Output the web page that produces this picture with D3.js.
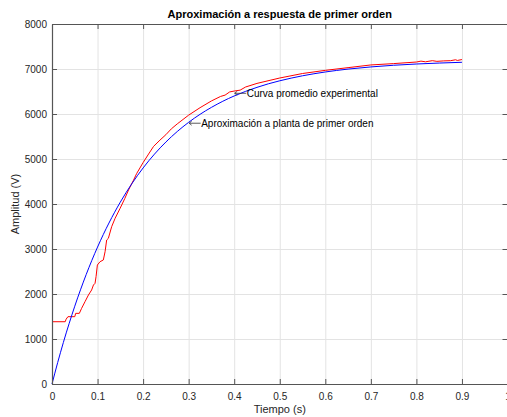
<!DOCTYPE html>
<html>
<head>
<meta charset="utf-8">
<script src="https://cdn.jsdelivr.net/npm/d3@7"></script>
<style>
    body { margin: 0; background: #fff; }
    svg { display: block; font-family: "Liberation Sans", Arial, Helvetica, sans-serif; }
</style>
</head>
<body>
<div id="chart"></div>
<script>
// valori
var tiempoAprox = [0, 0.0125, 0.025, 0.05, 0.075, 0.1, 0.125, 0.15, 0.175, 0.2, 0.225, 0.25, 0.275, 0.3,
    0.325, 0.35, 0.375, 0.4, 0.425, 0.45, 0.475, 0.5, 0.55, 0.6, 0.65, 0.7, 0.75, 0.8, 0.85, 0.9];
var valoresAprox = [0, 478, 924, 1729, 2431, 3043, 3577, 4042, 4447, 4801, 5109, 5377, 5611, 5815,
    5993, 6147, 6283, 6401, 6503, 6592, 6671, 6738, 6849, 6934, 6998, 7046, 7083, 7111, 7132, 7149];

var tiempoExp = [0, 0.029, 0.031, 0.035, 0.05, 0.052, 0.06, 0.065, 0.0725, 0.08, 0.087, 0.091, 0.0945,
    0.0967, 0.0996, 0.1055, 0.1127, 0.1165, 0.12, 0.1237, 0.131, 0.1385, 0.1495, 0.16, 0.168, 0.179,
    0.186, 0.2, 0.212, 0.223, 0.237, 0.25, 0.262, 0.275, 0.3, 0.325, 0.35, 0.37, 0.38, 0.39, 0.4,
    0.413, 0.425, 0.45, 0.5, 0.55, 0.6, 0.65, 0.7, 0.75, 0.8, 0.81, 0.82, 0.835, 0.845, 0.86, 0.875,
    0.886, 0.89, 0.9];
var valoresExp = [1384, 1384, 1440, 1496, 1496, 1570, 1570, 1681, 1830, 1978, 2089, 2200, 2237,
    2385, 2644, 2718, 2756, 2940, 3200, 3237, 3496, 3681, 3904, 4126, 4311, 4530,
    4680, 4920, 5110, 5280, 5420, 5540, 5670, 5780, 5975, 6140, 6290, 6390, 6420, 6490, 6510,
    6530, 6600, 6680, 6800, 6900, 6970, 7030, 7090, 7120, 7155, 7175, 7160, 7185, 7170, 7180, 7185,
    7205, 7190, 7210];

var xTicks = [0, 0.1, 0.2, 0.3, 0.4, 0.5, 0.6, 0.7, 0.8, 0.9, 1];
var yTicks = [0, 1000, 2000, 3000, 4000, 5000, 6000, 7000, 8000];

var titulo = "Aproximación a respuesta de primer orden";
var etiquetaX = "Tiempo (s)";
var etiquetaY = "Amplitud (V)";
var notas = [
    { t: 0.4, v: 6460, texto: "Curva promedio experimental" },
    { t: 0.3, v: 5795, texto: "Aproximación a planta de primer orden" }
];

var width = 507;
var height = 417;
var box = { left: 52, right: 507.5, top: 24, bottom: 384 };
var axisColor = "#555";

var svg = d3.select("#chart").append("svg")
    .attr("width", width)
    .attr("height", height);

var x = d3.scaleLinear().domain([0, 1]).range([box.left, box.right]);
var y = d3.scaleLinear().domain([0, 8000]).range([box.bottom, box.top]);

// griglia
svg.append("g")
    .attr("transform", "translate(0," + box.bottom + ")")
    .call(d3.axisBottom(x).tickValues(xTicks).tickSize(-(box.bottom - box.top)).tickFormat(""))
    .call(function (g) {
        g.select(".domain").remove();
        g.selectAll("line").attr("stroke", "#e3e3e3");
    });
svg.append("g")
    .attr("transform", "translate(" + box.left + ",0)")
    .call(d3.axisLeft(y).tickValues(yTicks).tickSize(-(box.right - box.left)).tickFormat(""))
    .call(function (g) {
        g.select(".domain").remove();
        g.selectAll("line").attr("stroke", "#e3e3e3");
    });

// curve
var lineaAprox = d3.line()
    .x(function (d, i) { return x(tiempoAprox[i]); })
    .y(function (d) { return y(d); })
    .curve(d3.curveMonotoneX);
var lineaExp = d3.line()
    .x(function (d, i) { return x(tiempoExp[i]); })
    .y(function (d) { return y(d); });

svg.append("path")
    .datum(valoresExp)
    .attr("fill", "none")
    .attr("stroke", "#ff0000")
    .attr("stroke-width", 1)
    .attr("d", lineaExp);
svg.append("path")
    .datum(valoresAprox)
    .attr("fill", "none")
    .attr("stroke", "#0000ff")
    .attr("stroke-width", 1)
    .attr("d", lineaAprox);

// assi (box con tacche interne)
function stile(g) {
    g.select(".domain").attr("stroke", axisColor).attr("stroke-width", 1.2);
    g.selectAll(".tick line").attr("stroke", axisColor);
    g.selectAll("text").attr("fill", "#262626").style("font-size", "10px");
}
svg.append("g")
    .attr("transform", "translate(0," + box.bottom + ")")
    .call(d3.axisBottom(x).tickValues(xTicks).tickSize(-5).tickSizeOuter(0).tickPadding(9)
        .tickFormat(function (d) { return d === 0 || d === 1 ? d : d3.format(".1f")(d); }))
    .call(stile);
svg.append("g")
    .attr("transform", "translate(0," + box.top + ")")
    .call(d3.axisTop(x).tickValues(xTicks).tickSize(-5).tickSizeOuter(0).tickFormat(""))
    .call(stile);
svg.append("g")
    .attr("transform", "translate(" + box.left + ",0)")
    .call(d3.axisLeft(y).tickValues(yTicks).tickSize(-5).tickSizeOuter(0).tickPadding(5)
        .tickFormat(d3.format("d")))
    .call(stile);
svg.append("g")
    .attr("transform", "translate(" + box.right + ",0)")
    .call(d3.axisRight(y).tickValues(yTicks).tickSize(-5).tickSizeOuter(0).tickFormat(""))
    .call(stile);

// annotazioni con freccia sottile a sinistra
var nota = svg.selectAll(".nota")
    .data(notas)
  .enter().append("g")
    .attr("class", "nota")
    .attr("transform", function (d) { return "translate(" + x(d.t) + "," + y(d.v) + ")"; });
nota.append("path")
    .attr("d", "M0.5,0 L12,0 M3,-2 L0.5,0 L3,2")
    .attr("fill", "none")
    .attr("stroke", "#333")
    .attr("stroke-width", 0.8);
nota.append("text")
    .attr("x", 12.5)
    .attr("dy", "0.35em")
    .style("font-size", "10px")
    .attr("fill", "#000")
    .text(function (d) { return d.texto; });

// titolo ed etichette
svg.append("text")
    .attr("x", (box.left + box.right) / 2)
    .attr("y", 18)
    .attr("text-anchor", "middle")
    .style("font-size", "11px")
    .style("font-weight", "bold")
    .attr("fill", "#000")
    .text(titulo);
svg.append("text")
    .attr("x", (box.left + box.right) / 2)
    .attr("y", 413)
    .attr("text-anchor", "middle")
    .style("font-size", "11px")
    .attr("fill", "#262626")
    .text(etiquetaX);
svg.append("text")
    .attr("transform", "translate(19," + ((box.top + box.bottom) / 2) + ") rotate(-90)")
    .attr("text-anchor", "middle")
    .style("font-size", "11px")
    .attr("fill", "#262626")
    .text(etiquetaY);
</script>
</body>
</html>
